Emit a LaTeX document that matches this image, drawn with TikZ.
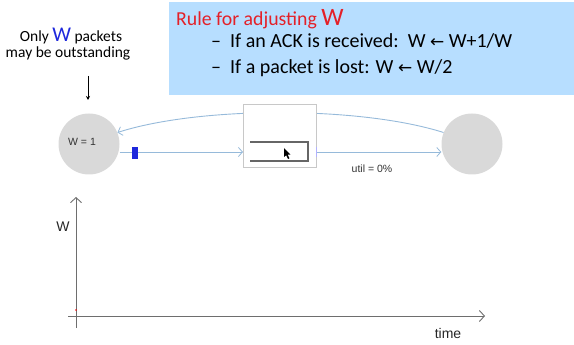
\documentclass[tikz,border=0pt]{standalone}
\usepackage{fontspec}
\setmainfont{Carlito}
\newfontfamily\arialf{Liberation Sans}
\newfontfamily\symf{DejaVu Sans}
\usetikzlibrary{arrows.meta}
\definecolor{rulebg}{RGB}{183,222,255}
\definecolor{rulered}{RGB}{228,32,40}
\definecolor{wblue}{RGB}{30,40,220}
\definecolor{linkblue}{RGB}{150,186,218}
\definecolor{nodegray}{RGB}{217,217,217}
\definecolor{axisgray}{RGB}{110,110,110}
\definecolor{boxgray}{RGB}{200,200,200}
\tikzset{
  hostnode/.style={circle,fill=nodegray,minimum size=61pt,inner sep=0pt},
  link/.style={draw=linkblue,line width=0.9pt,-{Straight Barb[length=4pt,width=9pt,line width=0.8pt]}},
  axis/.style={draw=axisgray,line width=1pt,-{Straight Barb[length=5pt,width=11pt,line width=0.9pt]}},
  smalltxt/.style={font=\arialf\fontsize{10.5}{12}\selectfont,text=black!80,inner sep=0pt},
  bigtxt/.style={font=\fontsize{20}{22}\selectfont,inner sep=0pt,anchor=base west},
}
\newcommand{\larrw}{{\symf\fontsize{17}{20}\selectfont ←}}
\begin{document}
\begin{tikzpicture}[x=1pt,y=-1pt]
\useasboundingbox (0,0) rectangle (574,345);
% rule box
\node[fill=rulebg,minimum width=405pt,minimum height=93pt,anchor=north west,inner sep=0pt] (rulebox) at (169,2) {};
\node[font=\fontsize{19.8}{22}\selectfont,text=rulered,inner sep=0pt,anchor=base west] (ruletitle) at (176,26) {Rule for adjusting \fontsize{25}{26}\selectfont W};
\node[bigtxt] (dash1) at (211,48) {\textendash};
\node[bigtxt] (rule1) at (230,48) {If an ACK is received:\ \ W \larrw{} W+1/W};
\node[bigtxt] (dash2) at (211,74) {\textendash};
\node[bigtxt] (rule2) at (230,74) {If a packet is lost: W \larrw{} W/2};
% outstanding note
\node[font=\fontsize{15.5}{17}\selectfont,inner sep=0pt,anchor=base] (note1) at (71,42) {Only {\fontsize{21}{21}\selectfont\color{wblue}W} packets};
\node[font=\fontsize{15.5}{17}\selectfont,inner sep=0pt,anchor=base] (note2) at (68,58) {may be outstanding};
\coordinate (ntop) at (88,76);
\coordinate (nbot) at (88,100);
\draw[line width=0.7pt,-{Stealth[length=4pt,width=4pt]}] (ntop) -- (nbot);
% curved ack path
\node[hostnode] (src) at (89,144) {};
\node[hostnode] (dst) at (472,144) {};
\draw[link] (dst.158) .. controls (360,106) and (200,106) .. (src.22);
% router box
\node[draw=boxgray,fill=white,line width=0.8pt,minimum width=73pt,minimum height=63pt,anchor=north west,inner sep=0pt] (router) at (243,104) {};
\coordinate (qa) at (250,142);
\coordinate (qb) at (308,142);
\coordinate (qc) at (308,161);
\coordinate (qd) at (250,161);
\draw[draw=black!60,line width=1.2pt] (qa) -- (qb) -- (qc) -- (qd);
% cursor
\fill[black] (284,148) -- (284,157) -- (286.2,155.2) -- (288,159) -- (289.4,158.3) -- (287.6,154.6) -- (290.4,154.6) -- cycle;
% forward links
\coordinate (rin) at (243,152);
\coordinate (rout) at (316,152);
\draw[link] (src.east |- rin) -- (rin);
\draw[link] (rout) -- (dst.west |- rout);
\draw[draw=blue!30,line width=1pt] (316,147) -- (316,157);
\node[fill=wblue,minimum width=6pt,minimum height=12pt,inner sep=0pt] (pkt) at (135,153) {};
\node[smalltxt,anchor=base] (wlabel) at (82,146) {W = 1};
\node[smalltxt,anchor=base] (util) at (372,173) {util = 0\%};
% graph
\coordinate (ybot) at (76,328);
\coordinate (ytop) at (76,197);
\coordinate (xl) at (68,316);
\coordinate (xr) at (485,316);
\draw[axis] (ybot) -- (ytop);
\draw[axis] (xl) -- (xr);
\fill[red] (76,310) circle (0.9pt);
\node[font=\arialf\fontsize{14}{16}\selectfont,text=black!85,inner sep=0pt,anchor=base] (ylab) at (63,232) {W};
\node[font=\arialf\fontsize{14}{16}\selectfont,text=black!85,inner sep=0pt,anchor=base] (xlab) at (448,338) {time};
\end{tikzpicture}
\end{document}
